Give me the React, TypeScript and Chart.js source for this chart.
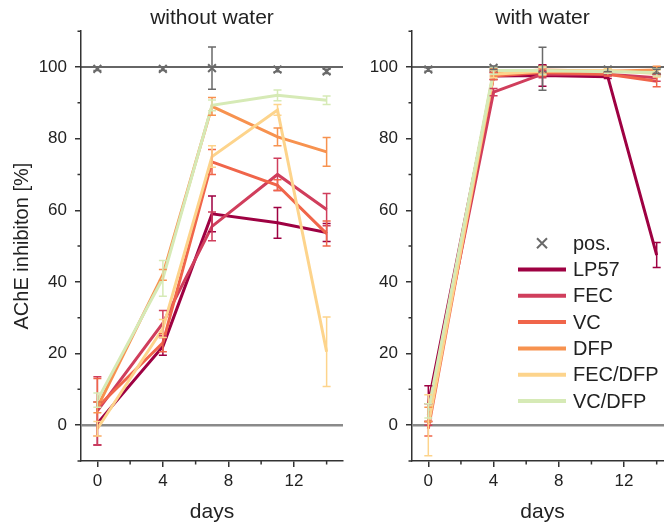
import React, { useEffect, useRef } from 'react';
import { Chart, registerables } from 'chart.js';

Chart.register(...registerables);

// ---------- data ----------
const days = [0, 4, 7, 11, 14];
const seriesNames = ['LP57', 'FEC', 'VC', 'DFP', 'FEC/DFP', 'VC/DFP'];
const seriesColors = ['#9e0142', '#d03e5c', '#f0654a', '#f7924f', '#fdd48c', '#d6eab6'];
const posColor = '#6a6a6a';

const xMajorTicks = [0, 4, 8, 12];
const xMinorTicks = [2, 6, 10, 14];
const yMajorTicks = [0, 20, 40, 60, 80, 100];
const yMinorTicks = [-10, 10, 30, 50, 70, 90, 110];

// without water
const posDry = [99.5, 99.5, 99.7, 99.3, 98.8];
const posDryErr = [0.5, 0.5, 5.9, 0.6, 0.6];
const lp57Dry = [0.5, 22, 59, 56.5, 53.8];
const lp57DryErr = [6, 2.5, 5, 4.3, 2.5];
const fecDry = [4, 28.5, 55.5, 70, 60.2];
const fecDryErr = [9.5, 3.5, 4, 4.5, 4.5];
const vcDry = [5, 23, 73.5, 67, 53.5];
const vcDryErr = [8, 2.5, 3.5, 1.5, 3.5];
const dfpDry = [5, 42, 89, 80.5, 76.3];
const dfpDryErr = [1.5, 1.5, 2.5, 2.5, 4];
const fecDfpDry = [-1, 27, 75, 88, 20.5];
const fecDfpDryErr = [2, 2.5, 3, 1.5, 9.7];
const vcDfpDry = [7, 41, 89.3, 92.1, 90.7];
const vcDfpDryErr = [2, 5, 1.5, 1.5, 1.2];

// with water
const posWet = [99.3, 99.8, 99.5, 99.3, 98.8];
const posWetErr = [0.5, 0.5, 6, 0.6, 0.6];
const lp57Wet = [6, 97.5, 97.6, 97.3, 47.5];
const lp57WetErr = [5, 1, 3, 0.5, 3.5];
const fecWet = [3, 93, 98, 98, 97];
const fecWetErr = [3, 1, 1, 0.5, 1];
const vcWet = [-1, 97.5, 98.5, 98, 96];
const vcWetErr = [2, 1, 1, 0.5, 1.5];
const dfpWet = [3, 98.5, 99.2, 98.8, 99.2];
const dfpWetErr = [2, 1, 1, 0.5, 1];
const fecDfpWet = [0, 98, 98.8, 99, 98.2];
const fecDfpWetErr = [8.5, 1, 1, 0.5, 1];
const vcDfpWet = [4, 99, 99, 98.7, 98.5];
const vcDfpWetErr = [2, 1, 1, 0.5, 1];

const drySeries = [lp57Dry, fecDry, vcDry, dfpDry, fecDfpDry, vcDfpDry];
const dryErrors = [lp57DryErr, fecDryErr, vcDryErr, dfpDryErr, fecDfpDryErr, vcDfpDryErr];
const wetSeries = [lp57Wet, fecWet, vcWet, dfpWet, fecDfpWet, vcDfpWet];
const wetErrors = [lp57WetErr, fecWetErr, vcWetErr, dfpWetErr, fecDfpWetErr, vcDfpWetErr];

const FONT = "'Liberation Sans', Arial, sans-serif";
const TEXT = '#222';
const AXIS = '#333';

Chart.defaults.font.family = FONT;
Chart.defaults.color = TEXT;

// ---------- plugins ----------
const errorBarsPlugin = {
  id: 'errorBars',
  afterDatasetsDraw(chart: any) {
    const { ctx } = chart;
    const xs = chart.scales.x;
    const ys = chart.scales.y;
    const sets = chart.data.datasets;
    for (let i = 1; i < sets.length; i++) {
      drawBars(sets[i]);
    }
    drawBars(sets[0]);
    function drawBars(ds: any) {
      if (!ds.errors) return;
      ctx.save();
      ctx.strokeStyle = ds.errColor || ds.borderColor;
      ctx.lineWidth = 1.5;
      ds.data.forEach((p: any, j: number) => {
        const e = ds.errors[j];
        if (!e) return;
        const px = xs.getPixelForValue(p.x);
        const t = ys.getPixelForValue(p.y + e);
        const b = ys.getPixelForValue(p.y - e);
        ctx.beginPath();
        ctx.moveTo(px, t);
        ctx.lineTo(px, b);
        ctx.moveTo(px - 4, t);
        ctx.lineTo(px + 4, t);
        ctx.moveTo(px - 4, b);
        ctx.lineTo(px + 4, b);
        ctx.stroke();
      });
      ctx.restore();
    }
  },
};

const minorTicksPlugin = {
  id: 'minorTicks',
  afterDraw(chart: any) {
    const { ctx } = chart;
    const xs = chart.scales.x;
    const ys = chart.scales.y;
    ctx.save();
    ctx.strokeStyle = AXIS;
    ctx.lineWidth = 1.5;
    ctx.beginPath();
    xMinorTicks.forEach((v) => {
      const px = xs.getPixelForValue(v);
      ctx.moveTo(px, ys.bottom);
      ctx.lineTo(px, ys.bottom + 3.5);
    });
    yMinorTicks.forEach((v) => {
      const py = ys.getPixelForValue(v);
      ctx.moveTo(xs.left, py);
      ctx.lineTo(xs.left - 3.5, py);
    });
    ctx.stroke();
    ctx.restore();
  },
};

const insideLegendPlugin = {
  id: 'insideLegend',
  afterDraw(chart: any) {
    const { ctx, chartArea } = chart;
    const lineX0 = chartArea.left + 106;
    const lineX1 = chartArea.left + 154;
    const textX = chartArea.left + 161;
    const y0 = chartArea.top + 212;
    const step = 26.3;
    ctx.save();
    ctx.font = `20px ${FONT}`;
    ctx.textBaseline = 'middle';
    ctx.textAlign = 'left';
    // pos.
    const cx = (lineX0 + lineX1) / 2;
    ctx.strokeStyle = posColor;
    ctx.lineWidth = 2;
    ctx.beginPath();
    ctx.moveTo(cx - 5, y0 - 5);
    ctx.lineTo(cx + 5, y0 + 5);
    ctx.moveTo(cx - 5, y0 + 5);
    ctx.lineTo(cx + 5, y0 - 5);
    ctx.stroke();
    ctx.fillStyle = TEXT;
    ctx.fillText('pos.', textX, y0 + 1);
    seriesNames.forEach((name, i) => {
      const y = y0 + step * (i + 1);
      ctx.strokeStyle = seriesColors[i];
      ctx.lineWidth = 4;
      ctx.beginPath();
      ctx.moveTo(lineX0, y);
      ctx.lineTo(lineX1, y);
      ctx.stroke();
      ctx.fillStyle = TEXT;
      ctx.fillText(name, textX, y + 1);
    });
    ctx.restore();
  },
};

// ---------- chart builder ----------
function buildConfig(
  title: string,
  pos: number[],
  posErr: number[],
  series: number[][],
  errors: number[][],
  isLeft: boolean
): any {
  const pts = (arr: number[]) => days.map((d, i) => ({ x: d, y: arr[i] }));
  const datasets: any[] = [];
  datasets.push({
    label: 'pos.',
    data: pts(pos),
    errors: posErr,
    errColor: posColor,
    showLine: false,
    pointStyle: 'crossRot',
    pointRadius: 5.5,
    pointBorderWidth: 2,
    pointBorderColor: posColor,
    borderColor: posColor,
    order: 0,
  });
  series.forEach((s, i) => {
    datasets.push({
      label: seriesNames[i],
      data: pts(s),
      errors: errors[i],
      borderColor: seriesColors[i],
      backgroundColor: seriesColors[i],
      borderWidth: 3,
      pointRadius: 0,
      tension: 0,
      order: 10 - i,
    });
  });
  datasets.push({
    label: 'ref100',
    data: [
      { x: -1, y: 100 },
      { x: 15, y: 100 },
    ],
    borderColor: AXIS,
    borderWidth: 1.5,
    pointRadius: 0,
    order: 20,
  });
  datasets.push({
    label: 'ref0',
    data: [
      { x: -1, y: 0 },
      { x: 15, y: 0 },
    ],
    borderColor: '#8a8a8a',
    borderWidth: 2.5,
    pointRadius: 0,
    order: 21,
  });

  return {
    type: 'line',
    data: { datasets },
    options: {
      animation: false,
      responsive: false,
      events: [],
      layout: { padding: { left: 0, right: 9, top: 0, bottom: 0 } },
      plugins: {
        legend: { display: false },
        tooltip: { enabled: false },
        title: {
          display: true,
          text: title,
          color: TEXT,
          font: { size: 21, weight: 'normal', family: FONT },
          padding: { top: 6, bottom: 0 },
          fullSize: false,
        },
      },
      scales: {
        x: {
          type: 'linear',
          min: -1,
          max: 15,
          afterBuildTicks: (s: any) => {
            s.ticks = xMajorTicks.map((v) => ({ value: v }));
          },
          afterFit: (s: any) => {
            s.height = 65;
          },
          ticks: { color: TEXT, font: { size: 17 }, padding: 4 },
          grid: { drawOnChartArea: false, drawTicks: true, tickLength: 6, color: AXIS, lineWidth: 1.5 },
          border: { display: true, color: AXIS, width: 1.5 },
          title: {
            display: true,
            text: 'days',
            color: TEXT,
            font: { size: 21 },
            padding: { top: 0, bottom: 1 },
          },
        },
        y: {
          type: 'linear',
          min: -10,
          max: 110,
          afterBuildTicks: (s: any) => {
            s.ticks = yMajorTicks.map((v) => ({ value: v }));
          },
          afterFit: (s: any) => {
            s.width = isLeft ? 81 : 60;
          },
          ticks: { color: TEXT, font: { size: 17 }, padding: 8 },
          grid: { drawOnChartArea: false, drawTicks: true, tickLength: 6, color: AXIS, lineWidth: 1.5 },
          border: { display: true, color: AXIS, width: 1.5 },
          title: {
            display: isLeft,
            text: 'AChE inhibiton [%]',
            color: TEXT,
            font: { size: 20 },
            padding: { top: 10, bottom: 0 },
          },
        },
      },
    },
    plugins: isLeft
      ? [errorBarsPlugin, minorTicksPlugin]
      : [errorBarsPlugin, minorTicksPlugin, insideLegendPlugin],
  };
}

export default function App() {
  const leftRef = useRef<HTMLCanvasElement>(null);
  const rightRef = useRef<HTMLCanvasElement>(null);

  useEffect(() => {
    const c1 = new Chart(
      leftRef.current as HTMLCanvasElement,
      buildConfig('without water', posDry, posDryErr, drySeries, dryErrors, true)
    );
    const c2 = new Chart(
      rightRef.current as HTMLCanvasElement,
      buildConfig('with water', posWet, posWetErr, wetSeries, wetErrors, false)
    );
    return () => {
      c1.destroy();
      c2.destroy();
    };
  }, []);

  return (
    <div
      style={{
        position: 'fixed',
        left: 0,
        top: 0,
        width: 664,
        height: 526,
        overflow: 'hidden',
        background: '#fff',
      }}
    >
      <canvas
        ref={leftRef}
        width={352}
        height={526}
        style={{ position: 'absolute', left: 0, top: 0, width: 352, height: 526 }}
      />
      <canvas
        ref={rightRef}
        width={330}
        height={526}
        style={{ position: 'absolute', left: 352, top: 0, width: 330, height: 526 }}
      />
    </div>
  );
}
